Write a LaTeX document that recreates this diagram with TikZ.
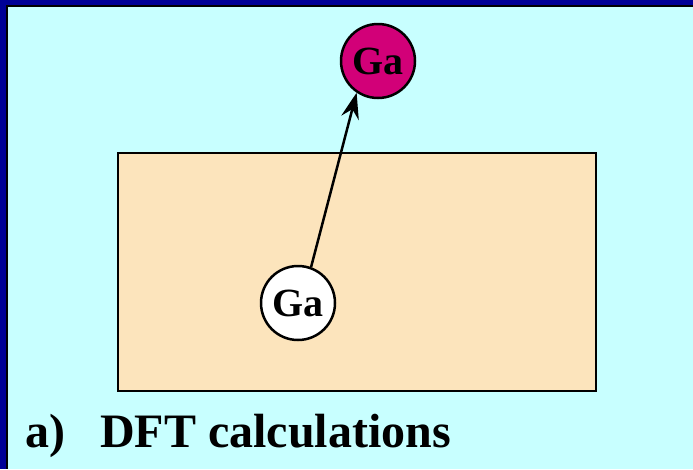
\documentclass[tikz,border=0pt]{standalone}
\usepackage{fontspec}
\setmainfont{Liberation Serif}
\usetikzlibrary{arrows.meta,positioning}
\definecolor{framebl}{RGB}{0,0,150}
\definecolor{skybg}{RGB}{200,255,255}
\definecolor{slabbg}{RGB}{252,228,188}
\definecolor{adatom}{RGB}{210,0,120}
\tikzset{atom/.style={draw,circle,line width=2.5pt,minimum size=74pt,inner sep=0pt,
  font=\fontsize{40}{44}\selectfont\bfseries}}

\begin{document}
\begin{tikzpicture}[x=1pt,y=-1pt]
\useasboundingbox (0,0) rectangle (693,469);
\fill[framebl](0,0) rectangle (693,469);
\fill[black](6,5) rectangle (693,469);
\fill[skybg](8,7) rectangle (693,469);
\draw[fill=slabbg,line width=2.5pt](118,153) rectangle (596,391);
\node[atom,fill=adatom] (top) at(378,61){Ga};
\node[atom,fill=white] (sub) at(298,303){Ga};
\draw[-{Stealth[length=26pt,width=18pt,inset=9pt]},line width=2.5pt](sub.70)--(top.236);
\node[anchor=base west,inner sep=0pt,font=\fontsize{48}{56}\selectfont\bfseries] (cap) at(25,447)
 {a)\hspace{35pt}DFT calculations};
\end{tikzpicture}
\end{document}
